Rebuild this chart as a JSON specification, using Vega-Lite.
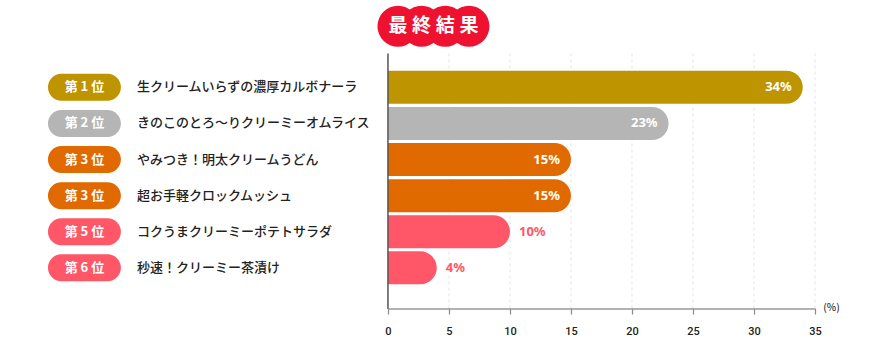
{
  "$schema": "https://vega.github.io/schema/vega-lite/v6.json",
  "width": 870,
  "height": 314,
  "padding": 0,
  "background": "white",
  "config": {
    "view": {"stroke": null},
    "font": "Noto Sans CJK JP",
    "axisY": {"disable": true}
  },
  "datasets": {
    "ranking": [
      {"row": 1, "rank": "第 1 位", "tier": "1", "item": "生クリームいらずの濃厚カルボナーラ", "value": 34, "label": "34%"},
      {"row": 2, "rank": "第 2 位", "tier": "2", "item": "きのこのとろ〜りクリーミーオムライス", "value": 23, "label": "23%"},
      {"row": 3, "rank": "第 3 位", "tier": "3", "item": "やみつき！明太クリームうどん", "value": 15, "label": "15%"},
      {"row": 4, "rank": "第 3 位", "tier": "3", "item": "超お手軽クロックムッシュ", "value": 15, "label": "15%"},
      {"row": 5, "rank": "第 5 位", "tier": "5", "item": "コクうまクリーミーポテトサラダ", "value": 10, "label": "10%"},
      {"row": 6, "rank": "第 6 位", "tier": "6", "item": "秒速！クリーミー茶漬け", "value": 4, "label": "4%"}
    ],
    "titlechars": [
      {"i": 0, "c": "最"}, {"i": 1, "c": "終"}, {"i": 2, "c": "結"}, {"i": 3, "c": "果"}
    ],
    "grid": [
      {"v": 5}, {"v": 10}, {"v": 15}, {"v": 20}, {"v": 25}, {"v": 30}, {"v": 35}
    ]
  },
  "resolve": {"scale": {"x": "independent"}, "axis": {"x": "independent"}},
  "layer": [
    {
      "layer": [
        {
          "data": {"name": "grid"},
          "mark": {"type": "rule", "color": "#e4e4e4", "strokeDash": [3, 3], "strokeWidth": 1},
          "encoding": {
            "x": {"field": "v", "type": "quantitative", "scale": {"domain": [-31.8, 39.51], "nice": false, "zero": false},
              "axis": {"values": [0, 5, 10, 15, 20, 25, 30, 35], "title": null, "domain": false, "grid": false, "ticks": true, "tickSize": -6, "tickColor": "#888888", "tickWidth": 1.2, "labelPadding": 17, "labelFontSize": 11, "labelFont": "Roboto", "labelFontWeight": 500, "labelColor": "#222222"}},
            "y": {"datum": 0.062, "type": "quantitative", "scale": {"domain": [-1.279, 7.139], "nice": false, "zero": false, "reverse": true}, "axis": null},
            "y2": {"datum": 7.139}
          }
        },
        {
          "data": {"name": "ranking"},
          "mark": {"type": "bar", "orient": "horizontal", "height": 33, "cornerRadiusTopRight": 16.5, "cornerRadiusBottomRight": 16.5},
          "encoding": {
            "x": {"field": "value", "type": "quantitative", "title": null},
            "x2": {"datum": 0},
            "y": {"field": "row", "type": "quantitative", "axis": null},
            "color": {"field": "tier", "type": "nominal", "legend": null,
              "scale": {"domain": ["1", "2", "3", "5", "6"], "range": ["#BE9400", "#B5B5B5", "#E06A00", "#FF5767", "#FF5767"]}}
          }
        },
        {
          "data": {"name": "ranking"},
          "mark": {"type": "bar", "orient": "horizontal", "height": 27, "cornerRadius": 13.5},
          "encoding": {
            "x": {"datum": -27.87, "type": "quantitative"},
            "x2": {"datum": -21.89},
            "y": {"field": "row", "type": "quantitative", "axis": null},
            "color": {"field": "tier", "type": "nominal", "legend": null}
          }
        },
        {
          "data": {"name": "ranking"},
          "mark": {"type": "text", "align": "center", "baseline": "middle", "color": "white", "fontSize": 13, "fontWeight": "bold"},
          "encoding": {
            "x": {"datum": -24.88, "type": "quantitative"},
            "y": {"field": "row", "type": "quantitative", "axis": null},
            "text": {"field": "rank"}
          }
        },
        {
          "data": {"name": "ranking"},
          "mark": {"type": "text", "align": "left", "baseline": "middle", "color": "#222222", "fontSize": 13, "fontWeight": 500},
          "encoding": {
            "x": {"datum": -20.57, "type": "quantitative"},
            "y": {"field": "row", "type": "quantitative", "axis": null},
            "text": {"field": "item"}
          }
        },
        {
          "data": {"name": "ranking"},
          "transform": [{"filter": "datum.value >= 15"}],
          "mark": {"type": "text", "align": "right", "baseline": "middle", "color": "white", "fontSize": 13, "fontWeight": "bold", "font": "Noto Sans", "dx": -11},
          "encoding": {
            "x": {"field": "value", "type": "quantitative"},
            "y": {"field": "row", "type": "quantitative", "axis": null},
            "text": {"field": "label"}
          }
        },
        {
          "data": {"name": "ranking"},
          "transform": [{"filter": "datum.value < 15"}],
          "mark": {"type": "text", "align": "left", "baseline": "middle", "color": "#FF5767", "fontSize": 13, "fontWeight": "bold", "font": "Noto Sans", "dx": 9},
          "encoding": {
            "x": {"field": "value", "type": "quantitative"},
            "y": {"field": "row", "type": "quantitative", "axis": null},
            "text": {"field": "label"}
          }
        },
        {
          "data": {"values": [{}]},
          "mark": {"type": "rule", "color": "#555555", "strokeWidth": 1.5},
          "encoding": {
            "x": {"datum": 0, "type": "quantitative"},
            "y": {"datum": 0.062, "type": "quantitative"},
            "y2": {"datum": 7.139}
          }
        },
        {
          "data": {"values": [{}]},
          "mark": {"type": "rule", "color": "#999999", "strokeWidth": 1.5},
          "encoding": {
            "x": {"datum": 0, "type": "quantitative"},
            "x2": {"datum": 35},
            "y": {"datum": 7.139, "type": "quantitative"}
          }
        },
        {
          "data": {"values": [{}]},
          "mark": {"type": "text", "align": "center", "baseline": "middle", "color": "#333333", "fontSize": 10, "fontWeight": 500, "text": "(%)"},
          "encoding": {
            "x": {"datum": 36.35, "type": "quantitative"},
            "y": {"datum": 7.113, "type": "quantitative"}
          }
        }
      ]
    },
    {
      "data": {"name": "titlechars"},
      "layer": [
        {
          "mark": {"type": "point", "shape": "circle", "filled": true, "opacity": 1, "size": 1681, "color": "#EE1230"},
          "encoding": {
            "x": {"field": "i", "type": "quantitative", "scale": {"domain": [-16.81, 19.94], "nice": false, "zero": false}, "axis": null},
            "y": {"datum": -0.69, "type": "quantitative"}
          }
        },
        {
          "mark": {"type": "text", "align": "center", "baseline": "middle", "color": "white", "fontSize": 19, "fontWeight": "bold"},
          "encoding": {
            "x": {"field": "i", "type": "quantitative", "axis": null},
            "y": {"datum": -0.69, "type": "quantitative"},
            "text": {"field": "c"}
          }
        }
      ]
    }
  ]
}
